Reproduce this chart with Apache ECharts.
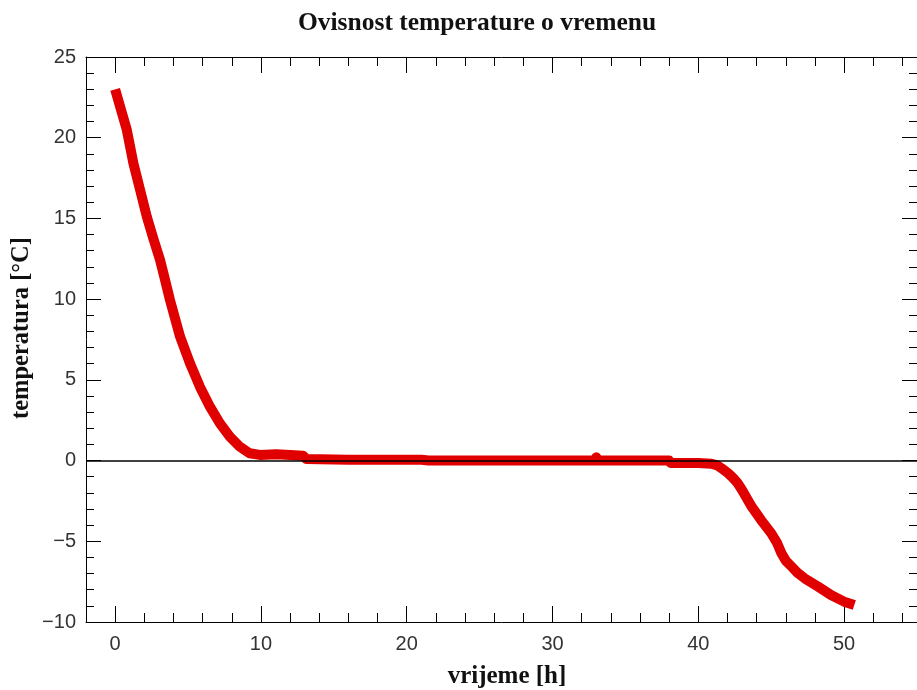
<!DOCTYPE html>
<html>
<head>
<meta charset="utf-8">
<script src="https://cdn.jsdelivr.net/npm/echarts@6/dist/echarts.min.js"></script>
<style>
html,body{margin:0;padding:0;background:#fff;}
#chart{width:917px;height:690px;}
</style>
</head>
<body>
<div id="chart"></div>
<script>
// ---- data ----
var chartTitle = 'Ovisnost temperature o vremenu';
var xAxisName = 'vrijeme [h]';
var yAxisName = 'temperatura [°C]';
var xTickLabels = [0, 10, 20, 30, 40, 50];
var timeH = [0, 0.07, 0.34, 0.8, 1.25, 1.71, 2.17, 2.62, 3.08, 3.42, 3.76, 4.45, 5.13, 5.81, 6.5, 7.18, 7.87, 8.55, 9.23, 9.92, 11.06, 12, 12.9, 13.1, 16, 21, 21.5, 25, 30, 32.9, 33.0, 33.1, 36, 38, 38.1, 40, 40.9, 41.3, 41.6, 42.0, 42.3, 42.7, 43.0, 43.66, 44.3, 45.0, 45.4, 45.7, 46.0, 46.4, 46.8, 47.3, 48.2, 49.1, 50.0, 50.7];
var tempC = [23.0, 22.9, 21.93, 20.48, 18.42, 16.77, 15.11, 13.75, 12.43, 11.2, 9.95, 7.68, 6.03, 4.58, 3.34, 2.31, 1.48, 0.86, 0.45, 0.35, 0.39, 0.35, 0.3, 0.1, 0.05, 0.05, 0.0, 0.0, 0.0, 0.0, 0.2, 0.0, 0.0, 0.0, -0.15, -0.15, -0.2, -0.3, -0.48, -0.75, -1.0, -1.4, -1.82, -2.86, -3.68, -4.5, -5.1, -5.74, -6.2, -6.57, -6.95, -7.3, -7.8, -8.33, -8.74, -8.95];

var seriesData = timeH.map(function (t, i) { return [t, tempC[i]]; });

var labelFont = { fontFamily: 'Liberation Sans', fontSize: 20, color: '#333' };
function fmtMinus(v) { return String(v).replace('-', '\u2212'); }

function xMajor(pos, showLabel) {
  return {
    type: 'value', position: pos, min: -2, max: 55,
    axisLine: { show: true, onZero: false, lineStyle: { color: '#000', width: 1 } },
    axisTick: { show: true, inside: true, length: 16, customValues: xTickLabels, lineStyle: { color: '#000', width: 1 } },
    axisLabel: Object.assign({ show: showLabel, margin: 12, customValues: xTickLabels, formatter: fmtMinus }, labelFont),
    splitLine: { show: false }
  };
}
function xMinor(pos) {
  return {
    type: 'value', position: pos, min: -2, max: 55, interval: 2,
    axisLine: { show: false, onZero: false },
    axisTick: { show: true, inside: true, length: 9, lineStyle: { color: '#000', width: 1 } },
    axisLabel: { show: false },
    splitLine: { show: false }
  };
}
function yAxis(pos, showLabel) {
  return {
    type: 'value', position: pos, min: -10, max: 25, interval: 5,
    axisLine: { show: true, onZero: false, lineStyle: { color: '#000', width: 1 } },
    axisTick: { show: true, inside: true, length: 15, lineStyle: { color: '#000', width: 1 } },
    minorTick: { show: true, splitNumber: 5, length: 8, lineStyle: { color: '#000', width: 1 } },
    axisLabel: Object.assign({ show: showLabel, margin: 10, formatter: fmtMinus }, labelFont),
    splitLine: { show: false }
  };
}

var chart = echarts.init(document.getElementById('chart'));
chart.setOption({
  animation: false,
  backgroundColor: '#fff',
  grid: { left: 86, top: 57, width: 833, height: 565, containLabel: false },
  xAxis: [xMajor('bottom', true), xMinor('bottom'), xMajor('top', false), xMinor('top')],
  yAxis: [yAxis('left', true), yAxis('right', false)],
  graphic: [
    { type: 'text', x: 477, y: 23, style: { text: chartTitle, font: 'bold 25.5px "Liberation Serif"', fill: '#111', textAlign: 'center', textVerticalAlign: 'middle' } },
    { type: 'text', x: 507, y: 677, style: { text: xAxisName, font: 'bold 25px "Liberation Serif"', fill: '#111', textAlign: 'center', textVerticalAlign: 'middle' } },
    { type: 'text', x: 22, y: 328, rotation: Math.PI / 2, style: { text: yAxisName, font: 'bold 24.5px "Liberation Serif"', fill: '#111', textAlign: 'center', textVerticalAlign: 'middle' } }
  ],
  series: [{
    type: 'line',
    xAxisIndex: 0, yAxisIndex: 0,
    data: seriesData,
    showSymbol: false,
    lineStyle: { color: '#e00000', width: 10, cap: 'butt', join: 'round' },
    markLine: {
      silent: true, symbol: 'none', label: { show: false },
      lineStyle: { color: '#000', width: 1.5, type: 'solid' },
      data: [{ yAxis: 0 }]
    },
    z: 3
  }]
});
</script>
</body>
</html>
